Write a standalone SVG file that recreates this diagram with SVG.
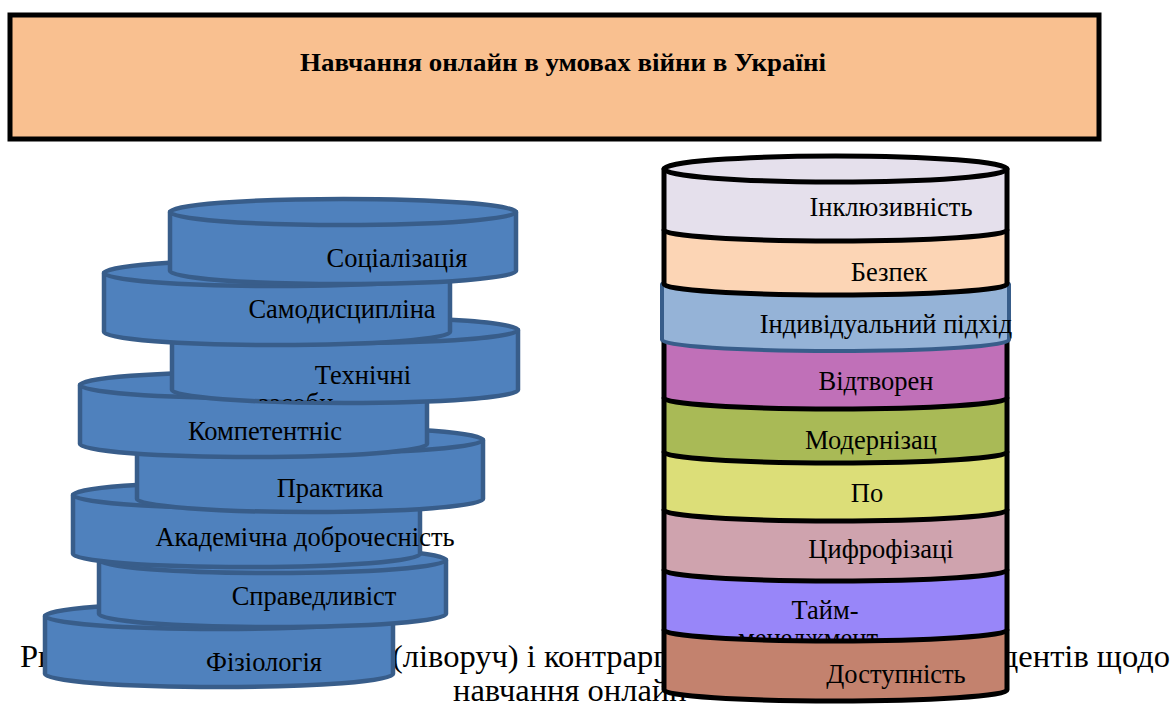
<svg xmlns="http://www.w3.org/2000/svg" width="1174" height="707" viewBox="0 0 1174 707">
<style>
text{font-family:"Liberation Serif","Times New Roman",serif;fill:#000}
.cap{font-size:32.5px}
.lbl{font-size:26.5px;text-anchor:middle}
.ttl{font-size:25px;font-weight:bold;text-anchor:middle}
.disc{fill:#4F81BD;stroke:#385D8A;stroke-width:4.5;stroke-linejoin:round}
.can{stroke:#000;stroke-width:5;stroke-linejoin:round}
</style>
<defs>
<clipPath id="clipTech"><rect x="172" y="300" width="346" height="101"/></clipPath>
<clipPath id="clipTime"><rect x="664" y="570" width="343" height="70"/></clipPath>
</defs>
<rect width="1174" height="707" fill="#fff"/>

<g id="caption">
<text class="cap" x="20" y="667">Рис.</text>
<text class="cap" x="392" y="667">(ліворуч) і контрарг</text>
<text class="cap" x="1170" y="667" text-anchor="end">студентів щодо</text>
<text class="cap" x="453" y="701">навчання онлайн</text>
</g>

<g id="left-stack">
<g id="n-fiziolohiia">
<path class="disc" d="M45,616 L45,674 A174,13 0 0 0 393,674 L393,616 Z"/>
<ellipse class="disc" cx="219" cy="616" rx="174" ry="13"/>
<text class="lbl" x="264" y="671">Фізіологія</text>
</g>
<g id="n-spravedlyvist">
<path class="disc" d="M99,560 L99,614 A173.5,13 0 0 0 446,614 L446,560 Z"/>
<ellipse class="disc" cx="272.5" cy="560" rx="173.5" ry="13"/>
<text class="lbl" x="314" y="605">Справедливіст</text>
</g>
<g id="n-akademichna">
<path class="disc" d="M73,495 L73,554 A173.5,13 0 0 0 420,554 L420,495 Z"/>
<ellipse class="disc" cx="246.5" cy="495" rx="173.5" ry="13"/>
<text class="lbl" x="305" y="546">Академічна доброчесність</text>
</g>
<g id="n-praktyka">
<path class="disc" d="M137,440 L137,499 A173,13 0 0 0 483,499 L483,440 Z"/>
<ellipse class="disc" cx="310" cy="440" rx="173" ry="13"/>
<text class="lbl" x="330" y="497">Практика</text>
</g>
<g id="n-kompetentnis">
<path class="disc" d="M80,385 L80,444 A173.5,13 0 0 0 427,444 L427,385 Z"/>
<ellipse class="disc" cx="253.5" cy="385" rx="173.5" ry="13"/>
<text class="lbl" x="265" y="440">Компетентніс</text>
</g>
<g id="n-tekhnichni">
<path class="disc" d="M172,330 L172,390 A173,13 0 0 0 518,390 L518,330 Z"/>
<ellipse class="disc" cx="345" cy="330" rx="173" ry="13"/>
<text class="lbl" x="363" y="384">Технічні</text>
<text class="lbl" x="296" y="412" clip-path="url(#clipTech)">засоби</text>
</g>
<g id="n-samodystsyplina">
<path class="disc" d="M104,273 L104,332 A173,13 0 0 0 450,332 L450,273 Z"/>
<ellipse class="disc" cx="277" cy="273" rx="173" ry="13"/>
<text class="lbl" x="342" y="318">Самодисципліна</text>
</g>
<g id="n-sotsializatsiia">
<path class="disc" d="M170,212 L170,271 A173,13 0 0 0 516,271 L516,212 Z"/>
<ellipse class="disc" cx="343" cy="212" rx="173" ry="13"/>
<text class="lbl" x="397" y="267">Соціалізація</text>
</g>
</g>

<g id="right-stack">
<g id="n-dostupnist">
<path class="can" fill="#C3826E" d="M664,630 L664,690 A171.5,11 0 0 0 1007,690 L1007,630 A171.5,11 0 0 0 664,630 Z"/>
<text class="lbl" x="896" y="683">Доступність</text>
</g>
<g id="n-taim">
<path class="can" fill="#9886F9" d="M664,570 L664,630 A171.5,11 0 0 0 1007,630 L1007,570 A171.5,11 0 0 0 664,570 Z"/>
<text class="lbl" x="825" y="619">Тайм-</text>
<text class="lbl" x="808" y="647" clip-path="url(#clipTime)">менеджмент</text>
</g>
<g id="n-tsyfrofizatsii">
<path class="can" fill="#CFA3AE" d="M664,510 L664,570 A171.5,11 0 0 0 1007,570 L1007,510 A171.5,11 0 0 0 664,510 Z"/>
<text class="lbl" x="881" y="558">Цифрофізаці</text>
</g>
<g id="n-po">
<path class="can" fill="#DCDE78" d="M664,452 L664,510 A171.5,11 0 0 0 1007,510 L1007,452 A171.5,11 0 0 0 664,452 Z"/>
<text class="lbl" x="867" y="502">По</text>
</g>
<g id="n-modernizats">
<path class="can" fill="#A9BA56" d="M664,398 L664,452 A171.5,11 0 0 0 1007,452 L1007,398 A171.5,11 0 0 0 664,398 Z"/>
<text class="lbl" x="871" y="449">Модернізац</text>
</g>
<g id="n-vidtvoren">
<path class="can" fill="#C070B8" d="M664,340 L664,398 A171.5,11 0 0 0 1007,398 L1007,340 A171.5,11 0 0 0 664,340 Z"/>
<text class="lbl" x="876" y="390">Відтворен</text>
</g>
<g id="n-indyvidualnyi">
<path fill="#95B3D7" stroke="#385D8A" stroke-width="4" stroke-linejoin="round" d="M662,284 L662,340 A173.5,11 0 0 0 1009,340 L1009,284 A173.5,11 0 0 0 662,284 Z"/>
<text class="lbl" x="886" y="333">Індивідуальний підхід</text>
</g>
<g id="n-bezpek">
<path class="can" fill="#FCD5B5" d="M664,230 L664,284 A171.5,11 0 0 0 1007,284 L1007,230 A171.5,11 0 0 0 664,230 Z"/>
<text class="lbl" x="889" y="281">Безпек</text>
</g>
<g id="n-inkliuzyvnist">
<path class="can" fill="#E5E0EC" d="M664,169 L664,230 A171.5,11 0 0 0 1007,230 L1007,169 Z"/>
<ellipse class="can" fill="#E5E0EC" cx="835.5" cy="169" rx="171.5" ry="13"/>
<text class="lbl" x="891" y="216">Інклюзивність</text>
</g>
</g>

<g id="n-title">
<rect x="10" y="15" width="1089" height="124" fill="#F9C090" stroke="#000" stroke-width="5"/>
<text class="ttl" x="563" y="71" textLength="526" lengthAdjust="spacingAndGlyphs">Навчання онлайн в умовах війни в Україні</text>
</g>
</svg>
